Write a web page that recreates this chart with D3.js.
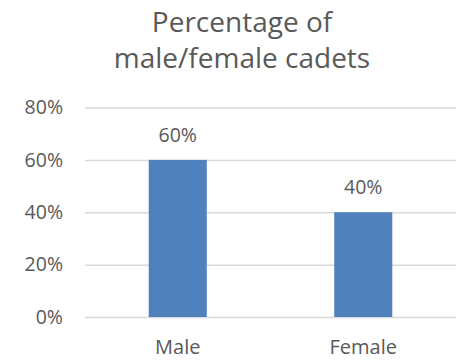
<!DOCTYPE html>
<html>
<head>
<meta charset="utf-8">
<script src="https://cdn.jsdelivr.net/npm/d3@7"></script>
<style>
  html, body { margin: 0; padding: 0; background: #fff; }
  svg { display: block; font-family: "Open Sans", "Noto Sans", sans-serif; }
</style>
</head>
<body>
<svg id="chart" width="456" height="361"></svg>
<script>
// Chart data
const categories = ["Male", "Female"];
const shares = [0.60, 0.40];
const yTicks = [0, 0.2, 0.4, 0.6, 0.8];
const titleLines = ["Percentage of", "male/female cadets"];

const svg = d3.select("#chart");

const plot = { left: 85, right: 456, top: 107.5, bottom: 317 };

const x = d3.scaleBand()
  .domain(categories)
  .range([plot.left, plot.right])
  .paddingInner(0.687)
  .paddingOuter(0.3435);

const y = d3.scaleLinear()
  .domain([0, 0.8])
  .range([plot.bottom, plot.top]);

const textColor = "#595959";
const pct = d3.format(".0%");

// Title
svg.append("g")
  .selectAll("text")
  .data(titleLines)
  .join("text")
  .attr("x", 242)
  .attr("y", (d, i) => 32 + i * 36)
  .attr("text-anchor", "middle")
  .attr("fill", textColor)
  .attr("font-size", 28)
  .text(d => d);

// Gridlines and y labels via axis
const yAxis = d3.axisLeft(y)
  .tickValues(yTicks)
  .tickFormat(pct)
  .tickSize(-(plot.right - plot.left))
  .tickPadding(22);

const gy = svg.append("g")
  .attr("transform", `translate(${plot.left},0)`)
  .call(yAxis);
gy.select(".domain").remove();
gy.selectAll(".tick line").attr("stroke", "#d9d9d9").attr("stroke-width", 1.5);
gy.selectAll(".tick text")
  .attr("fill", textColor)
  .attr("font-size", 19.5)
  .attr("font-family", "Open Sans, sans-serif");

// Bars
svg.append("g")
  .selectAll("rect")
  .data(categories)
  .join("rect")
  .attr("x", d => x(d))
  .attr("width", x.bandwidth())
  .attr("y", (d, i) => y(shares[i]))
  .attr("height", (d, i) => y(0) - y(shares[i]))
  .attr("fill", "#4f81bd");

// Value labels
svg.append("g")
  .selectAll("text")
  .data(categories)
  .join("text")
  .attr("x", d => x(d) + x.bandwidth() / 2)
  .attr("y", (d, i) => y(shares[i]) - 18)
  .attr("text-anchor", "middle")
  .attr("fill", textColor)
  .attr("font-size", 19.5)
  .text((d, i) => pct(shares[i]));

// Category labels
const xAxis = d3.axisBottom(x).tickSize(0).tickPadding(23);
const gx = svg.append("g")
  .attr("transform", `translate(0,${plot.bottom})`)
  .call(xAxis);
gx.select(".domain").remove();
gx.selectAll(".tick text")
  .attr("fill", textColor)
  .attr("font-size", 20)
  .attr("font-family", "Open Sans, sans-serif");
</script>
</body>
</html>
